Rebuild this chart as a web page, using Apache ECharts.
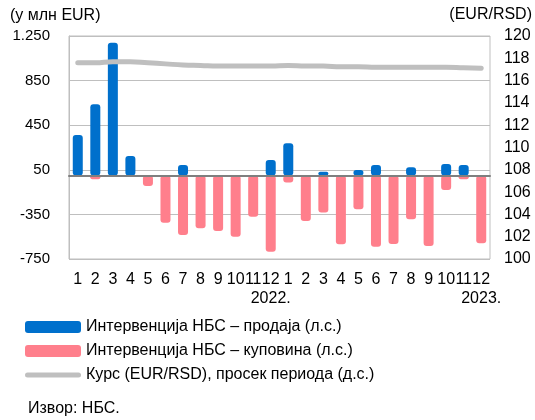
<!DOCTYPE html>
<html>
<head>
<meta charset="utf-8">
<script src="https://cdn.jsdelivr.net/npm/echarts@6/dist/echarts.min.js"></script>
<style>
  html, body { margin: 0; padding: 0; background: #fff; }
  #chart { width: 535px; height: 420px; }
</style>
</head>
<body>
<div id="chart"></div>
<script>
// месеци 2022-2023
const months = ['1', '2', '3', '4', '5', '6', '7', '8', '9', '10', '11', '12',
  '1', '2', '3', '4', '5', '6', '7', '8', '9', '10', '11', '12']
const years = { 11: '2022.', 23: '2023.' }

// интервенције, у млн EUR
const sales = [362, 638, 1190, 174, 0, 0, 93, 0, 0, 0, 0, 137,
  288, 0, 33, 0, 48, 93, 0, 73, 0, 102, 93, 0]
const purchases = [0, -35, 0, 0, -95, -424, -535, -475, -499, -550, -370, -684,
  -65, -409, -334, -618, -304, -640, -615, -394, -633, -131, -35, -609]

// курс EUR/RSD, просек периода
const rate = [117.6, 117.6, 117.7, 117.7, 117.6, 117.5, 117.4, 117.35, 117.3, 117.3, 117.3, 117.3,
  117.35, 117.3, 117.3, 117.25, 117.25, 117.2, 117.2, 117.2, 117.2, 117.2, 117.15, 117.1]

const names = ['Интервенција НБС – продаја (л.с.)', 'Интервенција НБС – куповина (л.с.)', 'Курс (EUR/RSD), просек периода (д.с.)']
const font = 'Liberation Sans, Arial, sans-serif'

const chart = echarts.init(document.getElementById('chart'))
chart.setOption({
  animation: false,
  textStyle: { fontFamily: font },
  grid: { left: 69, right: 44, top: 36, bottom: 161, show: true, borderColor: '#bfbfbf', borderWidth: 1 },
  legend: {
    orient: 'vertical',
    left: 25,
    top: 319,
    padding: 0,
    itemWidth: 56,
    itemHeight: 12,
    itemGap: 8,
    textStyle: { fontSize: 16, color: '#000', fontFamily: font },
    data: [
      { name: names[0], icon: 'roundRect' },
      { name: names[1], icon: 'roundRect' },
      { name: names[2], icon: 'path://M2.5,0H53.5A2.5,2.5,0,0,1,53.5,5H2.5A2.5,2.5,0,0,1,2.5,0Z' }
    ]
  },
  graphic: [{
    type: 'text',
    left: 28,
    top: 401,
    style: { text: 'Извор: НБС.', fontSize: 16, fill: '#000', fontFamily: font }
  }],
  xAxis: {
    type: 'category',
    data: months,
    z: 5,
    axisLine: { onZero: true, lineStyle: { color: '#7f7f7f', width: 2 } },
    axisTick: { show: false },
    axisLabel: {
      interval: 0,
      color: '#000',
      fontSize: 16,
      margin: 11,
      lineHeight: 19,
      formatter: (v, i) => years[i] ? v + '\n' + years[i] : v
    }
  },
  yAxis: [{
    type: 'value',
    min: -750,
    max: 1250,
    interval: 400,
    name: '(у млн EUR)',
    nameLocation: 'end',
    nameGap: 12,
    nameTextStyle: { color: '#000', fontSize: 16, align: 'left', padding: [0, 0, 0, -59] },
    axisLine: { show: true, lineStyle: { color: '#bfbfbf' } },
    axisTick: { show: false },
    axisLabel: {
      color: '#000',
      fontSize: 15,
      margin: 19,
      formatter: v => String(v).replace(/(\d)(\d{3})$/, '$1.$2')
    },
    splitLine: { lineStyle: { color: '#bfbfbf' } }
  }, {
    type: 'value',
    min: 100,
    max: 120,
    interval: 2,
    name: '(EUR/RSD)',
    nameLocation: 'end',
    nameGap: 13,
    nameTextStyle: { color: '#000', fontSize: 16, align: 'right', padding: [0, -42, 0, 0] },
    axisLine: { show: false },
    axisTick: { show: false },
    axisLabel: { color: '#000', fontSize: 16, margin: 14 },
    splitLine: { show: false }
  }],
  series: [{
    name: names[1],
    type: 'bar',
    data: purchases,
    barWidth: 10,
    barGap: '-100%',
    itemStyle: { color: '#ff7f8c', borderRadius: 3 }
  }, {
    name: names[0],
    type: 'bar',
    data: sales,
    barWidth: 10,
    barGap: '-100%',
    itemStyle: { color: '#0070cc', borderRadius: 3 }
  }, {
    name: names[2],
    type: 'line',
    yAxisIndex: 1,
    data: rate,
    smooth: true,
    symbol: 'none',
    lineStyle: { color: '#bfbfbf', width: 5, cap: 'round' },
    itemStyle: { color: '#bfbfbf' },
    z: 3
  }]
})
</script>
</body>
</html>
